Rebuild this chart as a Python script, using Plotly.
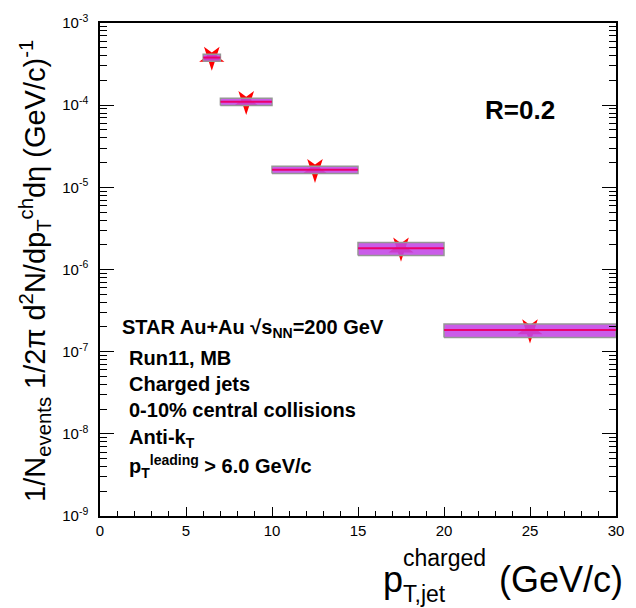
import plotly.graph_objects as go

# Data
bin_lo = [6, 7, 10, 15, 20]
bin_hi = [7, 10, 15, 20, 30]
values = [3.8e-4, 1.10e-4, 1.64e-5, 1.81e-6, 1.83e-7]
sys_rel = [0.10, 0.10, 0.10, 0.18, 0.19]
y_tick_vals = [1e-9, 1e-8, 1e-7, 1e-6, 1e-5, 1e-4, 1e-3]
y_tick_text = ["10<sup>-9</sup>", "10<sup>-8</sup>", "10<sup>-7</sup>", "10<sup>-6</sup>",
               "10<sup>-5</sup>", "10<sup>-4</sup>", "10<sup>-3</sup>"]

centers = [(a + b) / 2 for a, b in zip(bin_lo, bin_hi)]
halfw = [(b - a) / 2 for a, b in zip(bin_lo, bin_hi)]

W, H = 636, 608
ML, MR, MT, MB = 100, 13, 21, 92
PW, PH = W - ML - MR, H - MT - MB


def px(xp):
    return (xp - ML) / PW


def py(yp):
    return 1 - (yp - MT) / PH


FONT = "Liberation Sans, Arial, sans-serif"
fig = go.Figure()

# markers (behind the boxes)
fig.add_trace(go.Scatter(x=centers, y=values, mode="markers",
                         marker=dict(symbol="star", angle=180, size=19, color="red",
                                     line=dict(width=0)),
                         showlegend=False, hoverinfo="skip"))

# systematic boxes
for lo, hi, v, s in zip(bin_lo, bin_hi, values, sys_rel):
    ylo, yhi = v * (1 - s), v * (1 + s)
    fig.add_trace(go.Scatter(x=[lo, hi, hi, lo, lo], y=[ylo, ylo, yhi, yhi, ylo],
                             mode="lines", fill="toself",
                             fillcolor="rgba(195,70,230,0.88)",
                             line=dict(color="rgb(150,150,150)", width=1.5),
                             showlegend=False, hoverinfo="skip"))

# horizontal bin-width lines
fig.add_trace(go.Scatter(x=centers, y=values, mode="markers",
                         marker=dict(size=1, color="rgba(0,0,0,0)"),
                         error_x=dict(type="data", array=halfw, color="rgb(235,0,110)",
                                      thickness=2, width=0),
                         showlegend=False, hoverinfo="skip"))

fig.update_layout(
    width=W, height=H,
    margin=dict(l=ML, r=MR, t=MT, b=MB),
    plot_bgcolor="white", paper_bgcolor="white",
    font=dict(family=FONT, color="black"),
    showlegend=False,
)

fig.update_xaxes(range=[0, 30], showgrid=False, zeroline=False,
                 showline=True, linecolor="black", linewidth=1.5, mirror=True,
                 ticks="inside", ticklen=9, tickwidth=1, tickcolor="black",
                 tick0=0, dtick=5, tickfont=dict(size=15, family=FONT),
                 minor=dict(ticks="inside", ticklen=5, dtick=1, tickcolor="black"))

fig.update_yaxes(type="log", range=[-9, -3], showgrid=False, zeroline=False,
                 showline=True, linecolor="black", linewidth=1.5, mirror="ticks",
                 ticks="inside", ticklen=14, tickwidth=1, tickcolor="black",
                 tickvals=y_tick_vals, ticktext=y_tick_text, ticklabelstandoff=7,
                 tickfont=dict(size=15, family=FONT),
                 minor=dict(ticks="inside", ticklen=7, tickcolor="black", dtick="D1"))

# y-axis title
fig.add_annotation(xref="paper", yref="paper", x=px(34), y=py(270),
                   xanchor="center", yanchor="middle", textangle=-90, showarrow=False,
                   text="1/N<sub>events</sub> 1/2π d<sup>2</sup>N/dp<sub>T</sub><sup>ch</sup>dη (GeV/c)<sup>-1</sup>",
                   font=dict(size=29, family=FONT))

# x-axis title pieces
fig.add_annotation(xref="paper", yref="paper", x=px(385), y=py(580), xanchor="left", yanchor="middle",
                   text="p", showarrow=False, font=dict(size=36, family=FONT))
fig.add_annotation(xref="paper", yref="paper", x=px(405), y=py(558), xanchor="left", yanchor="middle",
                   text="charged", showarrow=False, font=dict(size=23, family=FONT))
fig.add_annotation(xref="paper", yref="paper", x=px(405), y=py(594), xanchor="left", yanchor="middle",
                   text="T,jet", showarrow=False, font=dict(size=23, family=FONT))
fig.add_annotation(xref="paper", yref="paper", x=px(632), y=py(580), xanchor="right", yanchor="middle",
                   text="(GeV/c)", showarrow=False, font=dict(size=36, family=FONT))

fig.add_annotation(xref="paper", yref="paper", x=px(526), y=py(108), xanchor="center", yanchor="middle",
                   text="<b>R=0.2</b>", showarrow=False, font=dict(size=26, family=FONT))

lines = [
    ("<b>STAR Au+Au √s<sub>NN</sub>=200 GeV</b>", 120, 328),
    ("<b>Run11, MB</b>", 127, 357),
    ("<b>Charged jets</b>", 127, 383),
    ("<b>0-10% central collisions</b>", 127, 410),
    ("<b>Anti-k<sub>T</sub></b>", 127, 438),
    ("<b>p<sub>T</sub><sup>leading</sup> > 6.0 GeV/c</b>", 127, 466),
]
for txt, xpix, ypix in lines:
    fig.add_annotation(xref="paper", yref="paper", x=px(xpix), y=py(ypix), xanchor="left", yanchor="middle",
                       text=txt, showarrow=False, font=dict(size=20, family=FONT))

fig.write_html("out.html")
